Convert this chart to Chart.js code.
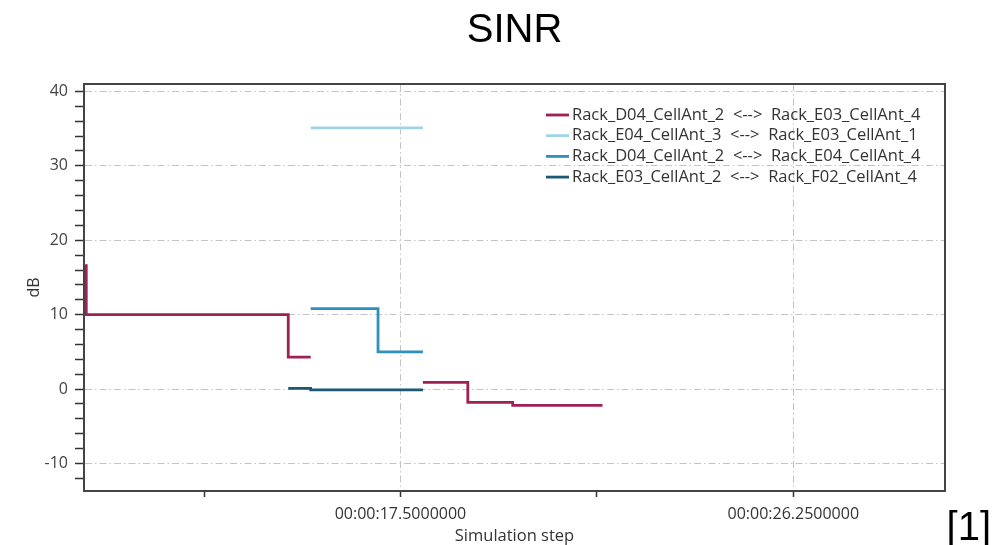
<!DOCTYPE html>
<html>
<head>
<meta charset="utf-8">
<title>SINR</title>
<script src="https://cdn.jsdelivr.net/npm/chart.js@4.4.1/dist/chart.umd.min.js"></script>
<style>
    body { margin: 0; background: #fff; }
    #wrap { position: relative; width: 995px; height: 545px; }
    #note {
        position: absolute; right: 4px; bottom: -4px;
        font-family: "Liberation Sans Narrow", "Liberation Sans", sans-serif;
        font-size: 40px; color: #000;
    }
</style>
</head>
<body>
<div id="wrap">
    <canvas id="sinrChart"></canvas>
    <div id="note">[1]</div>
</div>
<script>
// ===== DATA =====
var seriesLabels = [
    'Rack_D04_CellAnt_2  <-->  Rack_E03_CellAnt_4',
    'Rack_E04_CellAnt_3  <-->  Rack_E03_CellAnt_1',
    'Rack_D04_CellAnt_2  <-->  Rack_E04_CellAnt_4',
    'Rack_E03_CellAnt_2  <-->  Rack_F02_CellAnt_4'
];
var seriesColors = ['#a01f55', '#9fd4e6', '#2f90bf', '#1c5875'];

// time in seconds, value in dB (null = link gone)
var d04e03Times = [10.46, 10.5, 15.0, 15.5, 16.0, 18.0, 19.0, 20.0, 22.0];
var d04e03Values = [16.6, 10.0, 4.3, 4.3, null, 0.9, -1.8, -2.2, -2.2];

var e04e03Times = [15.5, 18.0];
var e04e03Values = [35.1, 35.1];

var d04e04Times = [15.5, 17.0, 18.0];
var d04e04Values = [10.8, 5.0, 5.0];

var e03f02Times = [15.0, 15.5, 18.0];
var e03f02Values = [0.1, -0.1, -0.1];

// axis ticks
var stepTicks = [13.125, 17.5, 21.875, 26.25];
var stepLabels = [17.5, 26.25];
var dbLabels = [-10, 0, 10, 20, 30, 40];

function toPoints(times, values) {
    var pts = [];
    for (var i = 0; i < times.length; i++) {
        pts.push({ x: times[i], y: values[i] });
    }
    return pts;
}

function formatStep(v) {
    var s = v.toFixed(7);
    if (v < 10) s = '0' + s;
    return '00:00:' + s;
}

// ===== PLUGINS =====
var framePlugin = {
    id: 'frame',
    afterDraw: function(chart) {
        var a = chart.chartArea;
        var ctx = chart.ctx;
        ctx.save();
        ctx.strokeStyle = '#444';
        ctx.lineWidth = 2;
        ctx.beginPath();
        ctx.moveTo(a.left, a.top);
        ctx.lineTo(a.right, a.top);
        ctx.lineTo(a.right, a.bottom);
        ctx.stroke();
        ctx.restore();
    }
};

// legend sits inside the plot, top right
var insideLegend = {
    id: 'insideLegend',
    afterDraw: function(chart) {
        var a = chart.chartArea;
        var ctx = chart.ctx;
        var x = a.right - 399;
        ctx.save();
        ctx.font = '16.5px "Open Sans"';
        ctx.textBaseline = 'middle';
        ctx.fillStyle = '#333';
        chart.data.datasets.forEach(function(ds, i) {
            var y = a.top + 31 + i * 20.7;
            ctx.strokeStyle = ds.borderColor;
            ctx.lineWidth = 2.8;
            ctx.beginPath();
            ctx.moveTo(x, y);
            ctx.lineTo(x + 23, y);
            ctx.stroke();
            ctx.fillText(ds.label, x + 26, y);
        });
        ctx.restore();
    }
};

// ===== BUILD CHART =====
var allSeries = [
    toPoints(d04e03Times, d04e03Values),
    toPoints(e04e03Times, e04e03Values),
    toPoints(d04e04Times, d04e04Values),
    toPoints(e03f02Times, e03f02Values)
];

var datasets = [];
for (var i = 0; i < allSeries.length; i++) {
    datasets.push({
        label: seriesLabels[i],
        data: allSeries[i],
        borderColor: seriesColors[i],
        backgroundColor: seriesColors[i],
        borderWidth: 2.8,
        pointRadius: 0,
        stepped: true,
        spanGaps: false,
        fill: false
    });
}

var gridDash = [7, 3, 1.5, 3];

var ctx = document.getElementById('sinrChart').getContext('2d');
window.myChart = new Chart(ctx, {
    type: 'line',
    data: { datasets: datasets },
    plugins: [framePlugin, insideLegend],
    options: {
        responsive: true,
        maintainAspectRatio: false,
        animation: false,
        layout: { padding: { left: 0, right: 50, top: 0, bottom: 0 } },
        plugins: {
            legend: { display: false },
            tooltip: { enabled: false },
            title: {
                display: true,
                text: 'SINR',
                color: '#000',
                fullSize: false,
                font: { family: '"Liberation Sans", Arial', size: 40, weight: 'normal' },
                padding: { top: 7, bottom: 29 }
            }
        },
        scales: {
            x: {
                type: 'linear',
                min: 10.45,
                max: 29.63,
                afterBuildTicks: function(scale) {
                    scale.ticks = stepTicks.map(function(v) { return { value: v }; });
                },
                afterFit: function(scale) { scale.height = 54; },
                border: { color: '#444', width: 2, dash: gridDash },
                grid: {
                    color: function(c) {
                        return c.tick && stepLabels.indexOf(c.tick.value) >= 0 ? '#c4c4c4' : 'rgba(0,0,0,0)';
                    },
                    lineWidth: 1,
                    tickColor: '#333',
                    tickWidth: 1.5,
                    tickLength: 6,
                    tickBorderDash: []
                },
                ticks: {
                    autoSkip: false,
                    maxRotation: 0,
                    padding: 8,
                    color: '#333',
                    font: { family: '"Open Sans"', size: 16 },
                    callback: function(v) {
                        return stepLabels.indexOf(v) >= 0 ? formatStep(v) : '';
                    }
                },
                title: {
                    display: true,
                    text: 'Simulation step',
                    color: '#333',
                    font: { family: '"Open Sans"', size: 16.5, lineHeight: 1 },
                    padding: { top: 0, bottom: 0 }
                }
            },
            y: {
                min: -13.7,
                max: 41,
                afterBuildTicks: function(scale) {
                    var t = [];
                    for (var v = -12; v <= 40; v += 2) t.push({ value: v });
                    scale.ticks = t;
                },
                afterFit: function(scale) { scale.width = 84; },
                border: { color: '#444', width: 2, dash: gridDash },
                grid: {
                    color: function(c) {
                        return c.tick && dbLabels.indexOf(c.tick.value) >= 0 ? '#c4c4c4' : 'rgba(0,0,0,0)';
                    },
                    lineWidth: 1,
                    tickColor: '#333',
                    tickWidth: 1.5,
                    tickLength: 9,
                    tickBorderDash: []
                },
                ticks: {
                    autoSkip: false,
                    padding: 7,
                    color: '#444',
                    font: { family: '"Open Sans"', size: 16 },
                    callback: function(v) {
                        return dbLabels.indexOf(v) >= 0 ? String(v) : '';
                    }
                },
                title: {
                    display: true,
                    text: 'dB',
                    color: '#333',
                    font: { family: '"Open Sans"', size: 16 },
                    padding: { top: 25, bottom: 0 }
                }
            }
        }
    }
});
</script>
</body>
</html>
